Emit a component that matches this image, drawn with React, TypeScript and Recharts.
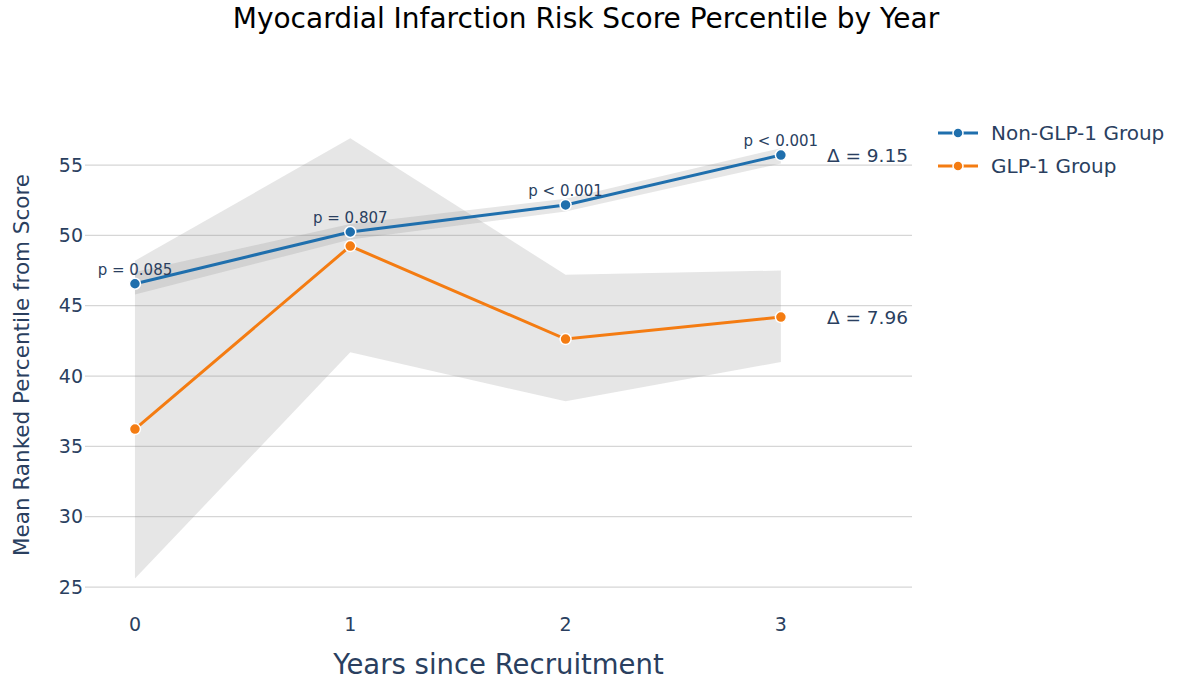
import { Area, CartesianGrid, ComposedChart, LabelList, Line, XAxis, YAxis } from "recharts";

const years = [0, 1, 2, 3];
const nonGlpMean = [46.56, 50.24, 52.16, 55.71];
const nonGlpLow = [45.8, 49.7, 51.7, 55.1];
const nonGlpHigh = [47.4, 50.8, 52.6, 56.2];
const glpMean = [36.23, 49.24, 42.63, 44.19];
const glpLow = [25.6, 41.7, 38.2, 41.0];
const glpHigh = [48.2, 56.9, 47.2, 47.5];
const pValues = ["p = 0.085", "p = 0.807", "p < 0.001", "p < 0.001"];
const yTicks = [25, 30, 35, 40, 45, 50, 55];

const BLUE = "#1f6fad";
const ORANGE = "#f47c12";
const TEXT = "#2a3f5f";
const FONT = "'DejaVu Sans', sans-serif";

const data = years.map((year, i) => ({
  year,
  nonGlp: nonGlpMean[i],
  glp: glpMean[i],
  nonGlpBand: [nonGlpLow[i], nonGlpHigh[i]],
  glpBand: [glpLow[i], glpHigh[i]],
}));

const nonGlpDelta = (nonGlpMean[nonGlpMean.length - 1] - nonGlpMean[0]).toFixed(2);
const glpDelta = (glpMean[glpMean.length - 1] - glpMean[0]).toFixed(2);

function PLabel(props: any) {
  const { x, y, index } = props;
  return (
    <text x={x} y={y - 9} textAnchor="middle" fontSize={15} fill={TEXT} fontFamily={FONT}>
      {pValues[index]}
    </text>
  );
}

function deltaLabel(delta: string) {
  return (props: any) => {
    const { x, y, index } = props;
    if (index !== years.length - 1) return null;
    return (
      <text x={x + 46} y={y} dominantBaseline="central" fontSize={18.5} fill={TEXT} fontFamily={FONT}>
        {`Δ = ${delta}`}
      </text>
    );
  };
}

const legendItems = [
  { name: "Non-GLP-1 Group", color: BLUE },
  { name: "GLP-1 Group", color: ORANGE },
];

function LegendBox() {
  return (
    <div style={{ position: "absolute", left: 936, top: 116, fontFamily: FONT }}>
      {legendItems.map((item) => (
        <div key={item.name} style={{ display: "flex", alignItems: "center", height: 33 }}>
          <svg width={44} height={14} style={{ marginRight: 11 }}>
            <line x1={2} y1={7} x2={42} y2={7} stroke={item.color} strokeWidth={3} />
            <circle cx={22} cy={7} r={5} fill={item.color} stroke="#fff" strokeWidth={1.5} />
          </svg>
          <span style={{ fontSize: 20, color: TEXT }}>{item.name}</span>
        </div>
      ))}
    </div>
  );
}

export default function App() {
  return (
    <div style={{ position: "absolute", left: 0, top: 0, width: 1190, height: 688, background: "#fff" }}>
      <div
        style={{
          position: "absolute",
          top: 2,
          width: 1190,
          left: 0,
          textAlign: "center",
          fontFamily: FONT,
          fontSize: 28,
          color: "#000",
        }}
      >
        <span style={{ position: "relative", left: -9 }}>Myocardial Infarction Risk Score Percentile by Year</span>
      </div>
      <ComposedChart
        width={1190}
        height={688}
        data={data}
        margin={{ top: 130, right: 278, bottom: 48, left: 25 }}
        style={{ fontFamily: FONT }}
      >
        <CartesianGrid vertical={false} horizontalValues={yTicks} stroke="#d6d6d6" strokeWidth={1.2} />
        <XAxis
          dataKey="year"
          type="number"
          domain={[-0.232, 3.609]}
          ticks={years}
          allowDataOverflow
          axisLine={false}
          tickLine={false}
          tickSize={0}
          tickMargin={18}
          height={40}
          tick={{ fill: TEXT, fontSize: 19 }}
          label={{ value: "Years since Recruitment", position: "insideBottom", offset: -34, fill: TEXT, fontSize: 27.5 }}
        />
        <YAxis
          type="number"
          domain={[24.08, 57.49]}
          ticks={yTicks}
          allowDataOverflow
          axisLine={false}
          tickLine={false}
          tickSize={0}
          tickMargin={2}
          width={60}
          tick={{ fill: TEXT, fontSize: 19 }}
          label={{
            value: "Mean Ranked Percentile from Score",
            angle: -90,
            position: "insideLeft",
            offset: -4,
            fill: TEXT,
            fontSize: 21.5,
            style: { textAnchor: "middle" },
          }}
        />
        <Area
          type="linear"
          dataKey="glpBand"
          stroke="none"
          fill="#808080"
          fillOpacity={0.2}
          isAnimationActive={false}
          activeDot={false}
        />
        <Area
          type="linear"
          dataKey="nonGlpBand"
          stroke="none"
          fill="#808080"
          fillOpacity={0.2}
          isAnimationActive={false}
          activeDot={false}
        />
        <Line
          type="linear"
          dataKey="glp"
          stroke={ORANGE}
          strokeWidth={3}
          dot={{ r: 5.5, fill: ORANGE, stroke: "#fff", strokeWidth: 1.5 }}
          activeDot={false}
          isAnimationActive={false}
        >
          <LabelList dataKey="glp" content={deltaLabel(glpDelta)} />
        </Line>
        <Line
          type="linear"
          dataKey="nonGlp"
          stroke={BLUE}
          strokeWidth={3}
          dot={{ r: 5.5, fill: BLUE, stroke: "#fff", strokeWidth: 1.5 }}
          activeDot={false}
          isAnimationActive={false}
        >
          <LabelList dataKey="nonGlp" content={PLabel} />
          <LabelList dataKey="nonGlp" content={deltaLabel(nonGlpDelta)} />
        </Line>
      </ComposedChart>
      <LegendBox />
    </div>
  );
}
